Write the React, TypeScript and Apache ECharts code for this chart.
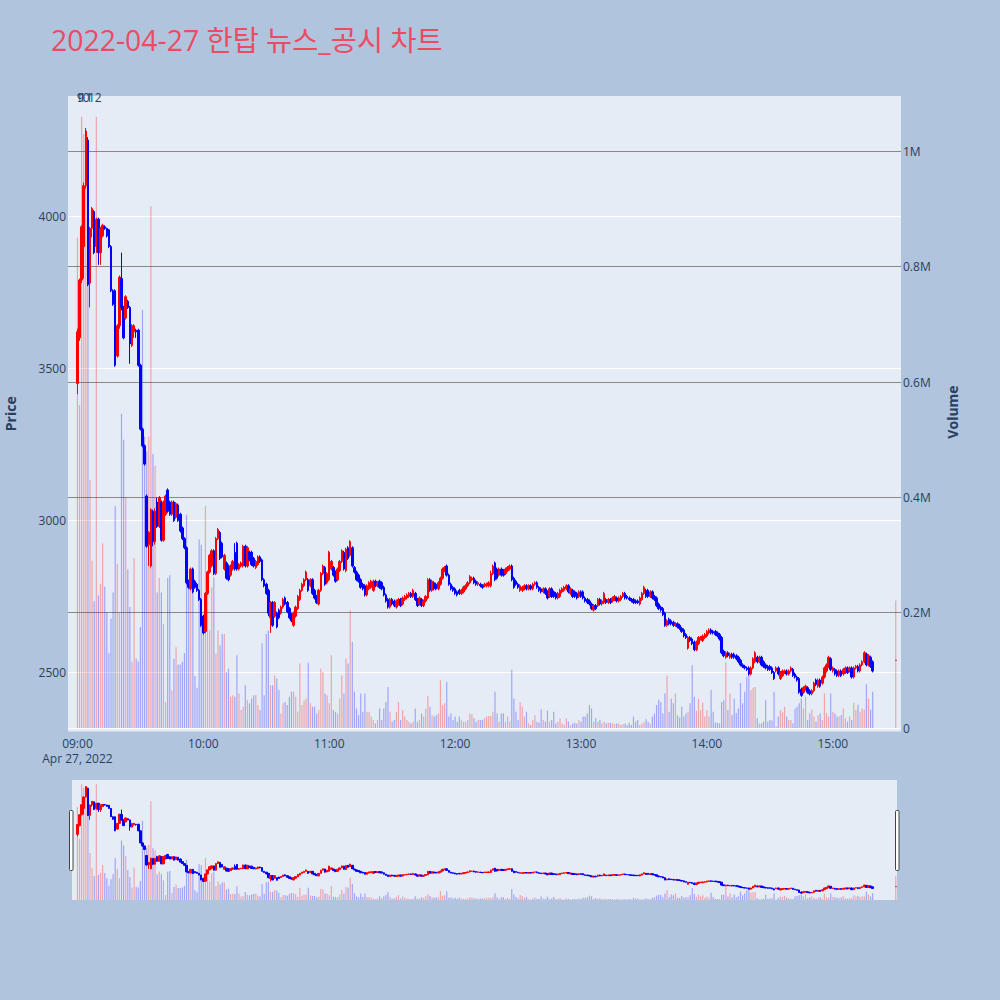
import { useEffect, useRef } from 'react';
import * as echarts from 'echarts';

// ---- data (1-minute candles, 27 Apr 2022) ----
const titleText = '2022-04-27 한탑 뉴스_공시 차트';
const dateLabel = 'Apr 27, 2022';
const hourTicks = ['09:00', '10:00', '11:00', '12:00', '13:00', '14:00', '15:00'];
const newsLabels = ['10', '9', '11', '12'];

// [open, close, low, high]
const candles0900 = [
    [3450, 3620, 3415, 3630], [3600, 3790, 3590, 3795], [3790, 3965, 3780, 3970], [3900, 4100, 3795, 4110],
    [4100, 4280, 4090, 4290], [4250, 3775, 3770, 4260], [3780, 3960, 3700, 3965], [3960, 4025, 3930, 4030],
    [4015, 3880, 3875, 4020], [3900, 3990, 3880, 3995], [3990, 3880, 3840, 3995], [3880, 3960, 3840, 3965],
    [3935, 3970, 3930, 3975], [3965, 3960, 3955, 3970], [3960, 3935, 3930, 3962], [3955, 3900, 3895, 3958],
    [3900, 3755, 3750, 3905], [3755, 3710, 3705, 3760], [3755, 3510, 3505, 3760], [3540, 3640, 3535, 3645],
    [3640, 3800, 3630, 3805], [3795, 3700, 3690, 3880], [3700, 3600, 3595, 3705], [3665, 3735, 3660, 3740],
    [3720, 3700, 3695, 3725], [3700, 3580, 3515, 3705], [3575, 3640, 3570, 3645], [3620, 3640, 3600, 3645],
    [3625, 3620, 3600, 3630], [3625, 3510, 3505, 3630], [3510, 3300, 3295, 3515], [3300, 3245, 3240, 3305],
    [3245, 3185, 3180, 3250], [3080, 2915, 2910, 3085], [2920, 2960, 2850, 2965], [2850, 3035, 2845, 3040],
    [3030, 2930, 2915, 3035], [2930, 3030, 2920, 3040], [3060, 2980, 2975, 3075], [2980, 3075, 2975, 3080],
    [3060, 2935, 2930, 3065], [2935, 3060, 2930, 3065], [3020, 3080, 3015, 3085], [3100, 3030, 3025, 3105],
    [3060, 3020, 3015, 3065], [3020, 3060, 3015, 3065], [3060, 3000, 2995, 3065], [3010, 3055, 3005, 3060],
    [3050, 3000, 2995, 3055], [3020, 2965, 2960, 3025], [2975, 2940, 2935, 2980], [2940, 2910, 2905, 2945],
    [2910, 2795, 2790, 2915], [2800, 2780, 2775, 2805], [2775, 2840, 2770, 2845], [2840, 2765, 2760, 2845],
    [2800, 2780, 2775, 2805], [2790, 2770, 2765, 2795],
];
const candles0958 = [
    [2770, 2740, 2735, 2775], [2740, 2655, 2650, 2745], [2685, 2630, 2625, 2690], [2635, 2760, 2630, 2765],
    [2760, 2830, 2755, 2835], [2830, 2885, 2825, 2890], [2850, 2900, 2845, 2905], [2900, 2825, 2820, 2905],
    [2825, 2940, 2820, 2945], [2940, 2970, 2935, 2975], [2960, 2875, 2870, 2965], [2925, 2880, 2875, 2930],
    [2840, 2885, 2835, 2890], [2860, 2810, 2805, 2865], [2850, 2805, 2800, 2855], [2820, 2850, 2815, 2855],
    [2840, 2865, 2835, 2870], [2895, 2840, 2835, 2925], [2925, 2840, 2835, 2930], [2840, 2855, 2835, 2860],
    [2850, 2860, 2845, 2865], [2850, 2915, 2845, 2920], [2915, 2850, 2845, 2920], [2850, 2910, 2845, 2915],
    [2895, 2870, 2865, 2900], [2895, 2855, 2850, 2900], [2875, 2850, 2845, 2880], [2845, 2865, 2840, 2870],
    [2855, 2880, 2850, 2885], [2880, 2865, 2860, 2885], [2870, 2805, 2800, 2875], [2805, 2785, 2780, 2810],
    [2790, 2760, 2755, 2795], [2770, 2695, 2685, 2775], [2680, 2730, 2630, 2735], [2730, 2655, 2650, 2735],
    [2685, 2730, 2680, 2735], [2695, 2650, 2645, 2700], [2705, 2680, 2675, 2710], [2695, 2715, 2690, 2720],
    [2715, 2740, 2710, 2745], [2745, 2725, 2720, 2750], [2730, 2700, 2695, 2735], [2710, 2680, 2675, 2715],
    [2690, 2670, 2665, 2695], [2655, 2695, 2650, 2700], [2685, 2715, 2680, 2720], [2710, 2750, 2705, 2755],
    [2740, 2770, 2735, 2775], [2770, 2790, 2765, 2795], [2785, 2805, 2780, 2810], [2805, 2830, 2800, 2835],
    [2805, 2770, 2765, 2810], [2785, 2805, 2780, 2810], [2805, 2760, 2755, 2810], [2770, 2745, 2740, 2775],
    [2750, 2730, 2725, 2755], [2725, 2770, 2720, 2775], [2770, 2825, 2765, 2830], [2825, 2850, 2820, 2855],
    [2845, 2790, 2785, 2850], [2795, 2825, 2790, 2830],
];
const candles1100 = [
    [2805, 2895, 2800, 2900], [2840, 2865, 2835, 2870], [2845, 2820, 2815, 2850], [2830, 2800, 2795, 2835],
    [2805, 2840, 2800, 2845], [2835, 2865, 2830, 2870], [2865, 2900, 2860, 2905], [2895, 2840, 2835, 2900],
    [2835, 2905, 2830, 2910], [2910, 2875, 2870, 2915], [2885, 2930, 2880, 2935], [2910, 2850, 2845, 2915],
    [2845, 2830, 2825, 2850], [2830, 2805, 2800, 2835], [2820, 2800, 2795, 2825], [2805, 2780, 2775, 2810],
    [2790, 2775, 2770, 2795], [2785, 2755, 2750, 2790], [2755, 2785, 2750, 2790], [2775, 2795, 2770, 2800],
    [2780, 2800, 2775, 2805], [2770, 2800, 2765, 2805], [2800, 2785, 2780, 2805], [2785, 2795, 2780, 2800],
    [2800, 2780, 2775, 2805], [2795, 2775, 2770, 2800], [2780, 2755, 2750, 2785], [2755, 2735, 2730, 2760],
    [2740, 2715, 2710, 2745], [2715, 2740, 2710, 2745], [2740, 2725, 2720, 2745], [2735, 2720, 2715, 2740],
    [2715, 2735, 2710, 2740], [2725, 2740, 2720, 2745], [2740, 2720, 2715, 2745], [2725, 2745, 2720, 2750],
    [2740, 2750, 2735, 2755], [2745, 2755, 2740, 2760], [2750, 2760, 2745, 2765], [2760, 2750, 2745, 2765],
    [2750, 2770, 2745, 2775], [2760, 2740, 2735, 2765], [2740, 2720, 2715, 2745], [2725, 2745, 2720, 2750],
    [2740, 2720, 2715, 2745], [2720, 2735, 2715, 2740], [2735, 2750, 2730, 2755], [2745, 2805, 2740, 2810],
    [2805, 2770, 2765, 2810], [2770, 2800, 2765, 2805], [2795, 2775, 2770, 2800], [2790, 2775, 2770, 2795],
    [2775, 2795, 2770, 2800], [2790, 2810, 2785, 2815], [2810, 2840, 2805, 2845], [2835, 2845, 2830, 2850],
    [2850, 2820, 2815, 2855], [2820, 2790, 2785, 2825], [2790, 2775, 2770, 2795], [2780, 2770, 2765, 2785],
    [2775, 2760, 2755, 2780], [2765, 2755, 2750, 2770],
];
const candles1202 = [
    [2770, 2760, 2755, 2775], [2760, 2770, 2755, 2775], [2765, 2780, 2760, 2785], [2775, 2785, 2770, 2790],
    [2785, 2795, 2780, 2800], [2795, 2815, 2790, 2820], [2805, 2810, 2800, 2815], [2810, 2795, 2790, 2815],
    [2800, 2790, 2785, 2805], [2790, 2795, 2785, 2800], [2790, 2785, 2780, 2795], [2785, 2780, 2775, 2790],
    [2785, 2790, 2780, 2795], [2785, 2790, 2780, 2795], [2785, 2795, 2780, 2800], [2785, 2825, 2780, 2835],
    [2825, 2850, 2820, 2855], [2860, 2805, 2800, 2865], [2840, 2810, 2805, 2845], [2820, 2840, 2815, 2845],
    [2840, 2820, 2815, 2845], [2835, 2820, 2815, 2840], [2825, 2840, 2820, 2845], [2835, 2845, 2830, 2850],
    [2840, 2850, 2835, 2855], [2850, 2805, 2800, 2855], [2810, 2780, 2775, 2815], [2800, 2790, 2785, 2805],
    [2790, 2780, 2775, 2795], [2770, 2785, 2765, 2790], [2770, 2780, 2765, 2785], [2775, 2785, 2770, 2790],
    [2785, 2775, 2770, 2790], [2775, 2785, 2770, 2790], [2785, 2775, 2770, 2790], [2775, 2790, 2770, 2795],
    [2790, 2795, 2785, 2800], [2795, 2780, 2775, 2800], [2780, 2770, 2765, 2785], [2775, 2765, 2760, 2780],
    [2765, 2775, 2760, 2780], [2775, 2760, 2755, 2780], [2765, 2745, 2740, 2770], [2750, 2775, 2745, 2780],
    [2775, 2750, 2745, 2780], [2765, 2750, 2745, 2770], [2760, 2745, 2740, 2765], [2745, 2760, 2740, 2765],
    [2750, 2770, 2745, 2775], [2765, 2775, 2760, 2780], [2770, 2780, 2765, 2785], [2775, 2785, 2770, 2790],
    [2785, 2765, 2760, 2790], [2760, 2775, 2755, 2780], [2770, 2750, 2745, 2775], [2765, 2750, 2745, 2770],
    [2760, 2745, 2740, 2765], [2750, 2765, 2745, 2770], [2765, 2750, 2745, 2770], [2765, 2745, 2740, 2770],
    [2745, 2735, 2730, 2750], [2740, 2730, 2725, 2745], [2735, 2725, 2720, 2740], [2725, 2710, 2705, 2730],
    [2705, 2720, 2700, 2725], [2720, 2710, 2705, 2725], [2720, 2740, 2715, 2745], [2740, 2725, 2720, 2745],
    [2725, 2735, 2720, 2740], [2730, 2760, 2725, 2765], [2740, 2730, 2725, 2745], [2730, 2740, 2725, 2745],
    [2740, 2730, 2725, 2745], [2735, 2745, 2730, 2750], [2740, 2750, 2735, 2755], [2745, 2735, 2730, 2750],
    [2735, 2745, 2730, 2750], [2740, 2750, 2735, 2755], [2750, 2760, 2745, 2765], [2760, 2745, 2740, 2765],
    [2750, 2745, 2740, 2755], [2745, 2740, 2735, 2750], [2740, 2735, 2730, 2745], [2740, 2730, 2725, 2745],
    [2735, 2730, 2725, 2740], [2735, 2730, 2725, 2740],
];
const candles1328 = [
    [2725, 2745, 2720, 2750], [2740, 2760, 2735, 2765], [2760, 2780, 2755, 2785], [2770, 2750, 2745, 2775],
    [2770, 2750, 2745, 2775], [2750, 2765, 2745, 2770], [2765, 2745, 2740, 2770], [2750, 2740, 2735, 2755],
    [2745, 2720, 2715, 2750], [2725, 2710, 2705, 2730], [2715, 2705, 2700, 2720], [2710, 2690, 2685, 2715],
    [2695, 2655, 2650, 2700], [2655, 2670, 2650, 2675], [2675, 2660, 2655, 2680], [2670, 2660, 2655, 2675],
    [2665, 2655, 2650, 2670], [2655, 2660, 2650, 2665], [2660, 2650, 2645, 2665], [2655, 2645, 2640, 2660],
    [2645, 2635, 2630, 2650], [2640, 2620, 2615, 2645], [2625, 2615, 2610, 2630], [2580, 2615, 2575, 2620],
    [2615, 2605, 2600, 2620], [2610, 2595, 2590, 2615], [2600, 2575, 2570, 2605], [2575, 2600, 2570, 2605],
    [2595, 2615, 2590, 2620], [2610, 2615, 2605, 2620], [2605, 2620, 2600, 2625], [2615, 2625, 2610, 2630],
    [2620, 2635, 2615, 2640], [2630, 2640, 2625, 2645], [2640, 2630, 2625, 2645], [2635, 2630, 2625, 2640],
    [2635, 2625, 2620, 2640], [2630, 2620, 2615, 2635], [2625, 2610, 2605, 2630], [2615, 2565, 2560, 2620],
    [2570, 2555, 2550, 2575], [2550, 2565, 2545, 2570], [2565, 2555, 2550, 2570], [2550, 2560, 2545, 2565],
    [2560, 2550, 2545, 2565], [2560, 2550, 2545, 2565], [2555, 2545, 2540, 2560], [2550, 2535, 2530, 2555],
    [2540, 2525, 2520, 2545], [2525, 2520, 2515, 2530], [2520, 2515, 2510, 2525], [2515, 2510, 2505, 2520],
    [2515, 2495, 2490, 2520], [2495, 2515, 2490, 2520], [2515, 2545, 2510, 2550], [2535, 2565, 2530, 2570],
    [2550, 2535, 2530, 2555], [2535, 2550, 2530, 2555], [2550, 2525, 2520, 2555], [2535, 2520, 2515, 2540],
    [2525, 2515, 2510, 2530], [2520, 2510, 2505, 2525], [2520, 2510, 2505, 2525], [2515, 2500, 2495, 2520],
    [2500, 2480, 2475, 2505], [2505, 2515, 2500, 2520], [2515, 2495, 2490, 2520], [2480, 2500, 2475, 2505],
    [2490, 2505, 2485, 2510], [2500, 2505, 2495, 2510], [2505, 2495, 2490, 2510], [2495, 2505, 2490, 2510],
    [2505, 2515, 2500, 2520], [2510, 2490, 2485, 2515], [2495, 2485, 2480, 2500], [2485, 2475, 2470, 2490],
    [2480, 2435, 2430, 2485], [2445, 2425, 2420, 2450], [2435, 2450, 2430, 2455], [2445, 2455, 2440, 2460],
    [2450, 2435, 2430, 2455], [2440, 2430, 2425, 2445], [2430, 2440, 2425, 2445], [2440, 2465, 2435, 2470],
    [2475, 2460, 2455, 2480], [2455, 2475, 2450, 2480], [2475, 2455, 2450, 2480], [2465, 2485, 2460, 2490],
    [2485, 2515, 2480, 2520], [2505, 2525, 2500, 2530], [2520, 2550, 2515, 2555], [2545, 2510, 2505, 2550],
    [2505, 2515, 2500, 2520], [2510, 2495, 2490, 2515], [2505, 2490, 2485, 2510], [2490, 2505, 2485, 2510],
    [2505, 2490, 2485, 2510], [2495, 2510, 2490, 2515], [2500, 2515, 2495, 2520], [2515, 2500, 2495, 2520],
    [2505, 2515, 2500, 2520], [2515, 2485, 2480, 2520], [2485, 2515, 2480, 2520], [2515, 2520, 2510, 2525],
    [2520, 2505, 2500, 2525], [2505, 2525, 2500, 2530], [2525, 2535, 2520, 2540], [2535, 2565, 2530, 2570],
    [2560, 2525, 2520, 2565], [2525, 2555, 2520, 2560], [2550, 2520, 2515, 2555], [2535, 2505, 2500, 2540],
];
// single print of the 15:30 closing auction
const closingMinute = '15:30';
const closingCandle = [2540, 2540, 2540, 2540];
const closingVolume = 221;

// volumes in thousands of shares, one per minute
const volumes0900 = [
    850, 560, 1060, 1030, 1000, 970, 430, 290, 220, 1060, 230, 250, 320, 245, 200, 130, 190, 235, 385, 285,
    200, 545, 500, 400, 275, 210, 115, 295, 120, 115, 175, 725, 505, 480, 505, 905, 475, 455, 235, 260,
    235, 180, 45, 260, 265, 65, 120, 140, 110, 110, 115, 130, 370, 245, 260, 235, 90, 70,
];
const volumes0958 = [
    327, 318, 180, 385, 267, 169, 244, 261, 129, 169, 143, 163, 163, 97, 103, 54, 57, 54, 126, 60,
    31, 37, 74, 48, 43, 51, 57, 57, 40, 31, 147, 57, 163, 169, 74, 74, 91, 86, 66, 25,
    43, 45, 40, 54, 63, 63, 54, 28, 112, 40, 48, 51, 113, 43, 37, 37, 25, 31, 103, 97,
    60, 57,
];
const volumes1100 = [
    43, 126, 31, 28, 25, 51, 91, 60, 120, 112, 204, 149, 63, 34, 22, 60, 28, 60, 28, 28,
    20, 14, 8, 14, 34, 14, 34, 45, 71, 28, 11, 14, 28, 45, 14, 31, 20, 14, 11, 8,
    11, 34, 11, 14, 25, 20, 34, 55, 37, 22, 20, 22, 25, 83, 40, 43, 80, 20, 25, 14,
    20, 11,
];
const volumes1202 = [
    20, 14, 11, 11, 14, 25, 24, 17, 11, 14, 14, 14, 17, 20, 21, 21, 28, 63, 25, 11,
    25, 25, 11, 20, 11, 101, 51, 28, 14, 45, 37, 20, 28, 8, 5, 14, 22, 11, 9, 32,
    14, 11, 30, 11, 14, 28, 8, 11, 17, 8, 5, 17, 11, 5, 8, 9, 8, 14, 11, 20,
    20, 25, 40, 34, 11, 17, 11, 14, 8, 11, 8, 9, 9, 8, 7, 8, 8, 5, 7, 8,
    5, 9, 5, 20, 11, 14,
];
const volumes1328 = [
    5, 8, 10, 15, 10, 8, 20, 25, 40, 49, 45, 25, 60, 91, 28, 51, 43, 60, 22, 18,
    37, 20, 25, 28, 43, 109, 54, 30, 51, 31, 44, 20, 31, 20, 66, 28, 9, 9, 8, 45,
    48, 114, 31, 60, 22, 51, 26, 34, 78, 43, 63, 89, 106, 66, 70, 71, 17, 8, 8, 11,
    48, 11, 14, 13, 63, 3, 20, 31, 28, 37, 20, 14, 14, 8, 34, 37, 43, 51, 34, 54,
    14, 25, 32, 20, 11, 22, 25, 14, 60, 26, 20, 60, 28, 25, 20, 20, 22, 34, 17, 11,
    20, 14, 44, 31, 40, 28, 34, 32, 76, 51, 32, 63,
];

const candles = [...candles0900, ...candles0958, ...candles1100, ...candles1202, ...candles1328];
const volumes = [...volumes0900, ...volumes0958, ...volumes1100, ...volumes1202, ...volumes1328];

const FONT = '"Open Sans", "Noto Sans CJK KR", sans-serif';
const AXIS_TEXT = '#2a3f5f';
const UP = '#ff0000';
const DOWN = '#0000ff';
const UP_FADE = 'rgba(255,0,0,0.3)';
const DOWN_FADE = 'rgba(0,0,255,0.3)';

function minuteLabel(m: number) {
    const t = 9 * 60 + m;
    const h = Math.floor(t / 60);
    const mm = t % 60;
    return `${String(h).padStart(2, '0')}:${String(mm).padStart(2, '0')}`;
}

function paint(col: string) {
    return { color: col, color0: col, borderColor: col, borderColor0: col, borderColorDoji: col };
}

// category slots from 08:56 to 15:32 so the axis range matches the picture
const categories: string[] = [];
const candleData: any[] = [];
const volumeData: any[] = [];
for (let m = -4; m <= 392; m++) {
    const label = minuteLabel(m);
    categories.push(label);
    if (m >= 0 && m < candles.length) {
        const [o, c, l, h] = candles[m];
        const up = c > o;
        candleData.push({ value: [o, c, l, h], itemStyle: paint(up ? UP : DOWN) });
        volumeData.push({ value: volumes[m] * 1000, itemStyle: { color: up ? UP_FADE : DOWN_FADE } });
    } else if (label === closingMinute) {
        candleData.push({ value: closingCandle, itemStyle: paint(UP) });
        volumeData.push({ value: closingVolume * 1000, itemStyle: { color: UP_FADE } });
    } else {
        candleData.push('-');
        volumeData.push('-');
    }
}

const candleStyle = {
    color: UP,
    color0: DOWN,
    borderColor: UP,
    borderColor0: DOWN,
    borderColorDoji: DOWN,
    borderWidth: 1,
};

export default function App() {
    const chartRef = useRef<HTMLDivElement>(null);

    useEffect(() => {
        if (!chartRef.current) return;
        const chart = echarts.init(chartRef.current, undefined, { renderer: 'svg' });

        const option: any = {
            animation: false,
            backgroundColor: '#b0c4de',
            textStyle: { fontFamily: FONT },
            title: {
                text: titleText,
                left: 46,
                top: 21,
                textStyle: { color: '#ec4c62', fontSize: 28.4, fontWeight: 'normal', fontFamily: FONT },
            },
            grid: [
                {
                    left: 68, top: 96, width: 833, height: 635.5, show: true,
                    backgroundColor: '#e5ecf6', borderWidth: 0, outerBoundsMode: 'none', containLabel: false,
                },
                { left: 68, top: 96, width: 833, height: 632, outerBoundsMode: 'none', containLabel: false },
                { left: 68, top: 780, width: 833, height: 120, outerBoundsMode: 'none', containLabel: false },
            ],
            xAxis: [
                {
                    gridIndex: 0,
                    type: 'category',
                    data: categories,
                    axisLine: { show: false },
                    axisTick: { show: false },
                    splitLine: { show: false },
                    axisLabel: {
                        interval: (_i: number, v: string) => hourTicks.includes(v),
                        formatter: (v: string) => (v === hourTicks[0] ? `${v}\n${dateLabel}` : v),
                        color: AXIS_TEXT,
                        fontSize: 12,
                        lineHeight: 15,
                        margin: 4,
                        fontFamily: FONT,
                        hideOverlap: false,
                    },
                },
                { gridIndex: 1, type: 'category', data: categories, show: false },
                { gridIndex: 2, type: 'category', data: categories, show: false },
            ],
            yAxis: [
                {
                    gridIndex: 0,
                    type: 'value',
                    min: 2306,
                    max: 4395,
                    splitNumber: 5,
                    position: 'left',
                    name: 'Price',
                    nameLocation: 'middle',
                    nameGap: 51,
                    nameRotate: 90,
                    nameTextStyle: { color: AXIS_TEXT, fontSize: 14, fontWeight: 'bold', fontFamily: FONT },
                    axisLine: { show: false },
                    axisTick: { show: false },
                    axisLabel: {
                        color: AXIS_TEXT,
                        fontSize: 12,
                        margin: 2,
                        showMinLabel: false,
                        showMaxLabel: false,
                        formatter: (v: number) => String(v),
                    },
                    splitLine: { lineStyle: { color: '#ffffff', width: 1 }, showMinLine: false, showMaxLine: false },
                },
                {
                    gridIndex: 1,
                    type: 'value',
                    min: 0,
                    max: 1096000,
                    interval: 200000,
                    position: 'right',
                    name: 'Volume',
                    nameLocation: 'middle',
                    nameGap: 44,
                    nameRotate: 90,
                    nameTextStyle: { color: AXIS_TEXT, fontSize: 14, fontWeight: 'bold', fontFamily: FONT },
                    axisLine: { show: false },
                    axisTick: { show: false },
                    axisLabel: {
                        color: AXIS_TEXT,
                        fontSize: 12,
                        margin: 2,
                        showMaxLabel: false,
                        formatter: (v: number) => (v === 0 ? '0' : `${v / 1e6}M`),
                    },
                    splitLine: {
                        lineStyle: { color: ['#ffffff', '#888888', '#888888', '#888888', '#888888', '#888888'], width: 1 },
                        showMaxLine: false,
                    },
                },
                { gridIndex: 2, type: 'value', min: 2306, max: 4395, show: false, splitLine: { show: false } },
                { gridIndex: 2, type: 'value', min: 0, max: 1100000, show: false, splitLine: { show: false } },
            ],
            series: [
                { name: 'Volume', type: 'bar', xAxisIndex: 1, yAxisIndex: 1, data: volumeData, barWidth: 1.2, z: 1 },
                {
                    name: 'Price',
                    type: 'candlestick',
                    xAxisIndex: 0,
                    yAxisIndex: 0,
                    data: candleData,
                    barWidth: 2,
                    large: false,
                    itemStyle: candleStyle,
                    z: 3,
                },
                { type: 'bar', xAxisIndex: 2, yAxisIndex: 3, data: volumeData, barWidth: 1.2, z: 1 },
                {
                    type: 'candlestick',
                    xAxisIndex: 2,
                    yAxisIndex: 2,
                    data: candleData,
                    barWidth: 2,
                    large: false,
                    itemStyle: candleStyle,
                    z: 3,
                },
            ],
            graphic: [
                // range slider background and grabbers
                { type: 'rect', z: -1, shape: { x: 72, y: 780, width: 825, height: 120 }, style: { fill: '#e5ecf6' } },
                {
                    type: 'rect',
                    z: 100,
                    shape: { x: 69.5, y: 810.5, width: 3.5, height: 60, r: 1 },
                    style: { fill: '#ffffff', stroke: '#444444', lineWidth: 1 },
                },
                {
                    type: 'rect',
                    z: 100,
                    shape: { x: 895.5, y: 810.5, width: 3.5, height: 60, r: 1 },
                    style: { fill: '#ffffff', stroke: '#444444', lineWidth: 1 },
                },
                // news markers stacked at the open
                ...newsLabels.map((t, i) => ({
                    type: 'text',
                    z: 100,
                    x: [76, 77, 79, 88][i],
                    y: 97,
                    style: { text: t, fill: AXIS_TEXT, fontSize: 12, fontFamily: FONT, verticalAlign: 'middle' },
                })),
            ],
        };

        chart.setOption(option);
        return () => {
            chart.dispose();
        };
    }, []);

    return <div ref={chartRef} style={{ position: 'absolute', left: 0, top: 0, width: 1000, height: 1000 }} />;
}
